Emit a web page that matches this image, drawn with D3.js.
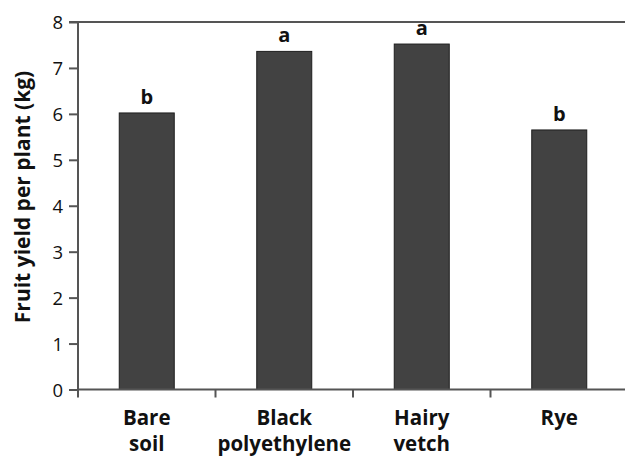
<!DOCTYPE html>
<html>
<head>
<meta charset="utf-8">
<script src="https://cdn.jsdelivr.net/npm/d3@7"></script>
<style>
  html, body { margin: 0; padding: 0; background: #fff; }
  svg { display: block; font-family: "Open Sans", sans-serif; }
</style>
</head>
<body>
<svg id="chart" width="625" height="457"></svg>
<script>
// Fruit yield per plant by mulch treatment
const categories = [["Bare", "soil"], ["Black", "polyethylene"], ["Hairy", "vetch"], ["Rye"]];
const yieldKg = [6.02, 7.36, 7.52, 5.65];
const groupLetters = ["b", "a", "a", "b"];
const yTicks = [0, 1, 2, 3, 4, 5, 6, 7, 8];

const svg = d3.select("#chart");
const margin = { left: 78, right: -3, top: 22, bottom: 68 };
const W = 625, H = 457;
const x0 = margin.left, x1 = W - margin.right;
const y0 = margin.top, y1 = H - margin.bottom + 0.5;

const x = d3.scaleBand()
  .domain(d3.range(categories.length))
  .range([x0, x1])
  .paddingInner(0.6)
  .paddingOuter(0.3);

const y = d3.scaleLinear().domain([0, 8]).range([y1, y0]);

const axisColor = "#555";

// top frame line
svg.append("line")
  .attr("x1", x0 - 9).attr("x2", W)
  .attr("y1", y(8)).attr("y2", y(8))
  .attr("stroke", axisColor).attr("stroke-width", 2);

// bars
svg.append("g").selectAll("rect")
  .data(yieldKg)
  .join("rect")
  .attr("x", (d, i) => x(i))
  .attr("width", x.bandwidth())
  .attr("y", d => y(d))
  .attr("height", d => y(0) - y(d))
  .attr("fill", "#424242")
  .attr("stroke", "#1e1e1e")
  .attr("stroke-width", 1);

// significance letters
svg.append("g").selectAll("text")
  .data(yieldKg)
  .join("text")
  .attr("x", (d, i) => x(i) + x.bandwidth() / 2)
  .attr("y", d => y(d) - 9)
  .attr("text-anchor", "middle")
  .attr("font-size", 20)
  .attr("font-weight", "bold")
  .attr("fill", "#111")
  .text((d, i) => groupLetters[i]);

// y axis
const yAxis = svg.append("g")
  .attr("transform", `translate(${x0},0)`)
  .call(d3.axisLeft(y).tickValues(yTicks).tickSize(9).tickPadding(6).tickFormat(d3.format("d")));
yAxis.select(".domain").attr("stroke", axisColor).attr("stroke-width", 2)
  .attr("d", `M0,${y(8)}V${y(0) + 8}`);
yAxis.selectAll(".tick line").attr("stroke", axisColor).attr("stroke-width", 2);
yAxis.selectAll(".tick text")
  .attr("font-size", 18.5)
  .attr("font-family", "'Open Sans', sans-serif")
  .attr("fill", "#111")
  .attr("dy", "0.36em");

// x axis baseline and category dividers
const xAxisG = svg.append("g");
xAxisG.append("line")
  .attr("x1", x0).attr("x2", W)
  .attr("y1", y(0)).attr("y2", y(0))
  .attr("stroke", axisColor).attr("stroke-width", 2);
const dividers = d3.range(1, categories.length).map(i => x(i) - x.step() * x.paddingInner() / 2);
xAxisG.selectAll("line.div")
  .data(dividers)
  .join("line")
  .attr("class", "div")
  .attr("x1", d => d).attr("x2", d => d)
  .attr("y1", y(0)).attr("y2", y(0) + 8)
  .attr("stroke", axisColor).attr("stroke-width", 2);

// category labels
const labels = svg.append("g").selectAll("text")
  .data(categories)
  .join("text")
  .attr("x", (d, i) => x(i) + x.bandwidth() / 2)
  .attr("y", 424.5)
  .attr("text-anchor", "middle")
  .attr("font-size", 20.5)
  .attr("font-weight", "bold")
  .attr("fill", "#111");
labels.selectAll("tspan")
  .data(d => d)
  .join("tspan")
  .attr("x", function () { return d3.select(this.parentNode).attr("x"); })
  .attr("dy", (d, i) => i === 0 ? 0 : 26.5)
  .text(d => d);

// y axis title
svg.append("text")
  .attr("transform", "translate(29.5,197) rotate(-90)")
  .attr("text-anchor", "middle")
  .attr("font-size", 21)
  .attr("font-weight", "bold")
  .attr("fill", "#111")
  .text("Fruit yield per plant (kg)");
</script>
</body>
</html>
